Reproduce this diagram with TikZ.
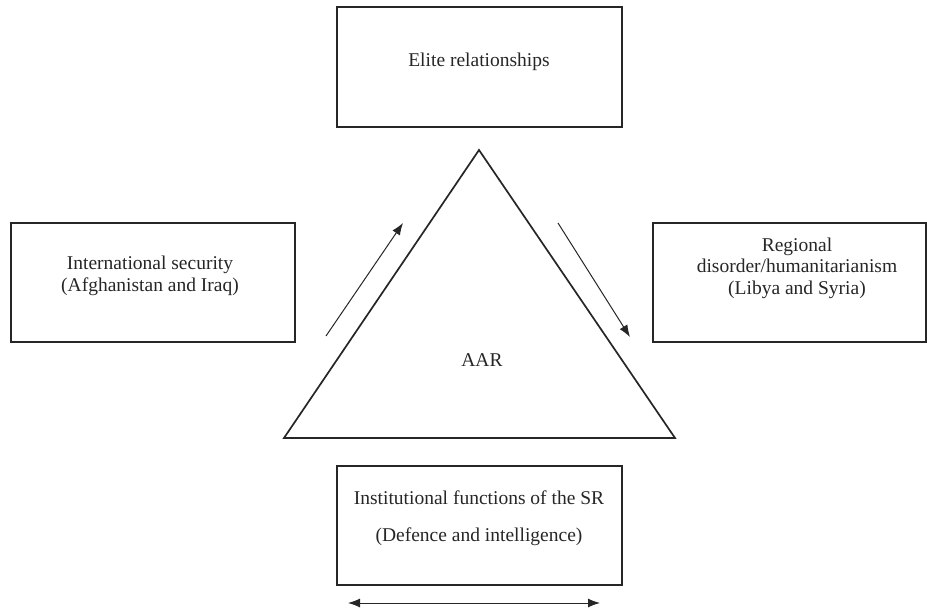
\documentclass[tikz,border=0pt]{standalone}
\usepackage{fontspec}
\setmainfont{Liberation Serif}
\usetikzlibrary{arrows.meta}
\begin{document}
\begin{tikzpicture}[x=1pt,y=-1pt,
  box/.style={draw=black!85, line width=1.7pt, inner sep=0pt},
  txt/.style={font=\fontsize{19.5}{21.5}\selectfont, align=center, inner sep=0pt, text=black!85},
  thinarrow/.style={draw=black!85, line width=1pt, -{Latex[length=12pt,width=9pt]}},
  tri/.style={draw=black!85, line width=1.7pt, line join=miter}]
\useasboundingbox (0,0) rectangle (927,612);
% boxes
\node[box, minimum width=285pt, minimum height=120pt] (elite) at (479.5,67) {};
\node[txt] (eliteT) at (479,62) {Elite relationships};
\node[box, minimum width=284pt, minimum height=119pt] (intl) at (153,282.5) {};
\node[txt] (intlT) at (150,276) {International security\\(Afghanistan and Iraq)};
\node[box, minimum width=273pt, minimum height=119pt] (reg) at (789.5,282.5) {};
\node[txt] (regT) at (797,268) {Regional\\disorder/humanitarianism\\(Libya and Syria)};
\node[box, minimum width=285pt, minimum height=119pt] (inst) at (479.5,525.5) {};
\node[txt] (instT) at (479,518.5) {Institutional functions of the SR\\[15.5pt](Defence and intelligence)};
% triangle
\coordinate (apex) at (479,150);
\coordinate (bl) at (284,438);
\coordinate (br) at (675,438);
\draw[tri] (apex) -- (bl) -- (br) -- cycle;
\node[txt] (aar) at (482,360) {AAR};
% arrows
\coordinate (a1s) at (326,336);
\coordinate (a1e) at (403,223);
\coordinate (a2s) at (558,223);
\coordinate (a2e) at (630,337);
\coordinate (a3s) at (348,603);
\coordinate (a3e) at (600,603);
\draw[thinarrow] (a1s) -- (a1e);
\draw[thinarrow] (a2s) -- (a2e);
\draw[thinarrow, {Latex[length=12pt,width=9pt]}-{Latex[length=12pt,width=9pt]}] (a3s) -- (a3e);
\end{tikzpicture}
\end{document}
